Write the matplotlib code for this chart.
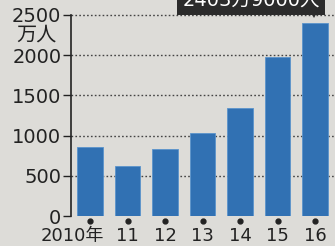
import numpy as np
import matplotlib
matplotlib.use('Agg')
import matplotlib.pyplot as plt
from matplotlib.patches import Polygon

plt.rcParams['font.family'] = ['DejaVu Sans', 'Noto Sans CJK JP']

# visitors to Japan, 10k persons
years = ['2010年', '11', '12', '13', '14', '15', '16']
visitors = [861, 621, 836, 1036, 1341, 1974, 2404]
yticks = [0, 500, 1000, 1500, 2000, 2500]
callout = '2403万9000人'

bg = '#dddcd8'
bar_c = '#3171b3'

fig = plt.figure(figsize=(3.35, 2.46), dpi=100, facecolor=bg)
ax = fig.add_axes([71/335, 30/246, 264/335, 201/246], facecolor=bg)

x = np.arange(len(years))
ax.bar(x, visitors, width=0.69, color=bar_c, edgecolor='#5a93cc', linewidth=0.6, zorder=3)

ax.set_xlim(-0.507, 6.533)
ax.set_ylim(0, 2500)
ax.set_yticks(yticks)
ax.set_yticklabels([str(v) for v in yticks], fontsize=14, color='#222')
ax.tick_params(axis='y', length=6, width=1, pad=1, color='#222')
ax.set_xticks([])

for v in yticks[1:]:
    ax.axhline(v, color='#444', lw=1, ls=(0, (1.2, 1.6)), zorder=1, clip_on=False)

for s in ['top', 'right', 'bottom']:
    ax.spines[s].set_visible(False)
ax.spines['left'].set_linewidth(1.2)
ax.spines['left'].set_color('#222')

# dots and year labels under the bars
tr = ax.get_xaxis_transform()
ax.plot(x, [-0.025] * len(x), 'o', ms=3.5, color='#222', transform=tr, clip_on=False)
for i, lab in enumerate(years):
    xi = i - 0.48 if i == 0 else i
    ax.text(xi, -0.1, lab, transform=tr, ha='center', va='center', fontsize=13, color='#222')

fig.text(36/335, 1 - 35/246, '万人', ha='center', va='center', fontsize=14.5, color='#222')

# callout on the 2016 bar (cropped at the top edge, as in the source)
fig.text(251/335, 1 - 1/246, callout, ha='center', va='center', fontsize=14, color='white',
         bbox=dict(boxstyle='square,pad=0.25', fc='#2b2b2b', ec='none'))
fig.patches.append(Polygon([[309/335, 1 - 9/246], [319/335, 1 - 9/246], [314/335, 1 - 18/246]],
                           closed=True, transform=fig.transFigure, fc='#2b2b2b', ec='none'))

fig.savefig('out.png', dpi=100, facecolor=bg)
